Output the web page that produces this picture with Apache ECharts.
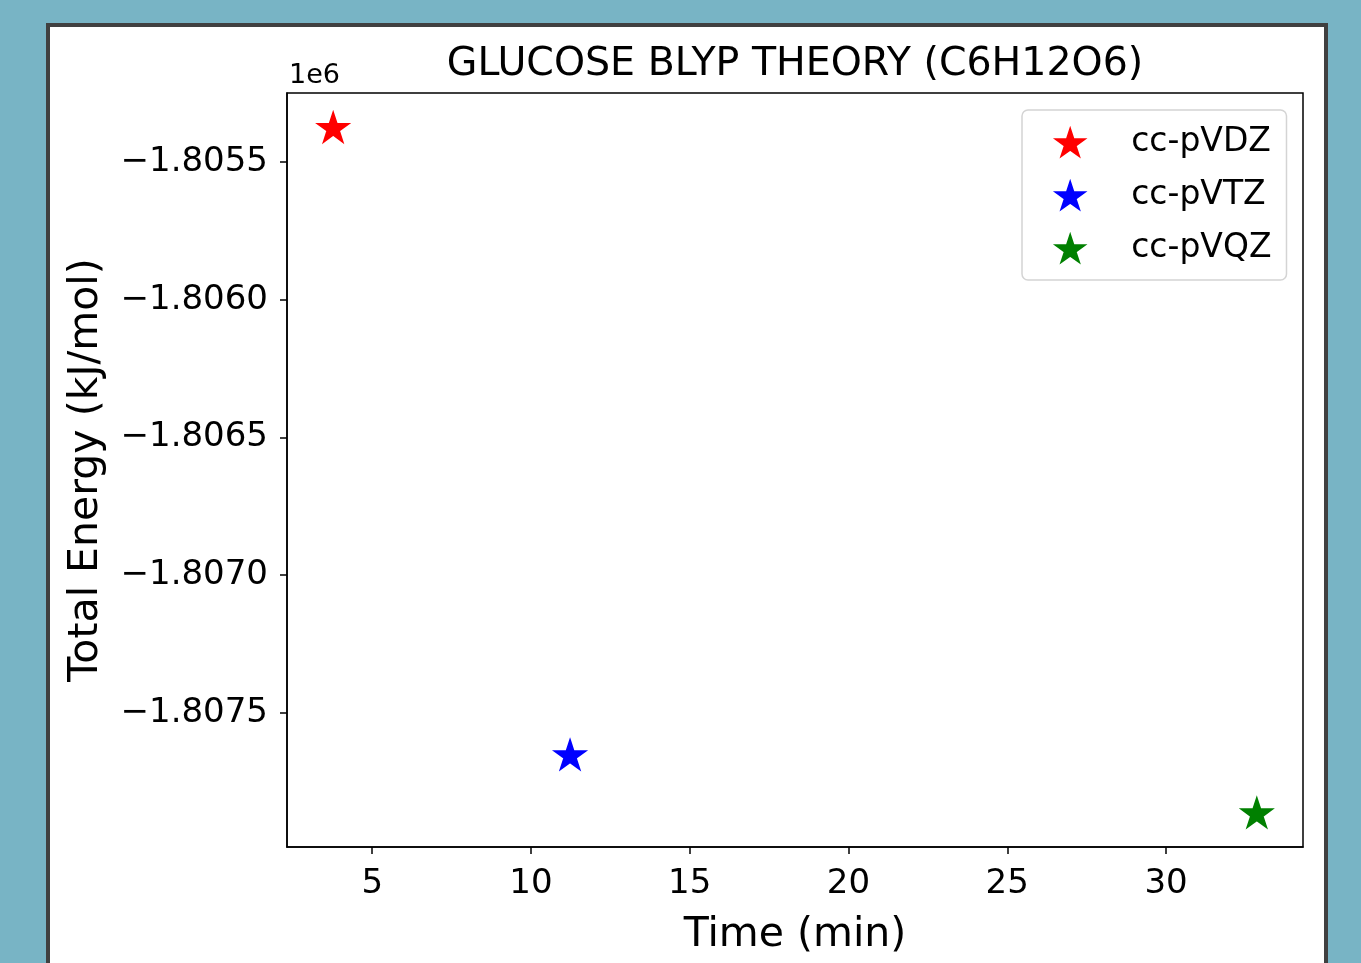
<!DOCTYPE html>
<html>
<head>
    <meta charset="utf-8">
    <title>GLUCOSE BLYP THEORY</title>
    <script src="https://cdn.jsdelivr.net/npm/echarts@6/dist/echarts.min.js"></script>
    <style>
        html, body { margin: 0; padding: 0; background: #78b4c5; }
        #container { width: 1361px; height: 963px; }
    </style>
</head>
<body>
    <div id="container"></div>
    <script type="text/javascript">
        // basis sets, run time (min) and total energy (kJ/mol)
        var basisSets = ['cc-pVDZ', 'cc-pVTZ', 'cc-pVQZ'];
        var times = [3.77, 11.23, 32.86];
        var energies = [-1805373, -1807652, -1807863];
        var colors = ['#ff0000', '#0000ff', '#008000'];

        var xTicks = [5, 10, 15, 20, 25, 30];
        var yTicks = [-1807500, -1807000, -1806500, -1806000, -1805500];

        var FONT = '"DejaVu Sans", sans-serif';
        var STAR = 'path://M100,0 L122.45,69.1 L195.1,69.1 L136.3,111.8 L158.8,180.9 L100,138.2 L41.2,180.9 L63.7,111.8 L4.9,69.1 L77.55,69.1 Z';

        // matplotlib style 5% margins
        function pad(arr) {
            var lo = Math.min.apply(null, arr), hi = Math.max.apply(null, arr);
            var m = (hi - lo) * 0.05;
            return [lo - m, hi + m];
        }
        var xr = pad(times), yr = pad(energies);

        var series = basisSets.map(function (name, i) {
            return {
                name: name,
                type: 'scatter',
                symbol: STAR,
                symbolSize: 30,
                symbolKeepAspect: true,
                itemStyle: { color: colors[i], opacity: 1, borderColor: colors[i], borderWidth: 2 },
                data: [[times[i], energies[i]]]
            };
        });

        var chart = echarts.init(document.getElementById('container'));
        chart.setOption({
            animation: false,
            textStyle: { fontFamily: FONT },
            graphic: [
                {
                    type: 'rect', z: -10,
                    shape: { x: 48, y: 25, width: 1278, height: 960 },
                    style: { fill: '#ffffff', stroke: '#404040', lineWidth: 4 }
                },
                {
                    type: 'text',
                    style: {
                        x: 795, y: 65, text: 'GLUCOSE BLYP THEORY (C6H12O6)',
                        textAlign: 'center', textVerticalAlign: 'middle',
                        font: '39.5px ' + FONT, fill: '#000'
                    }
                },
                {
                    type: 'text',
                    style: {
                        x: 289, y: 76, text: '1e6',
                        textAlign: 'left', textVerticalAlign: 'middle',
                        font: '27px ' + FONT, fill: '#000'
                    }
                }
            ],
            grid: {
                left: 287, top: 93, right: 58, bottom: 116,
                show: true, borderColor: '#000', borderWidth: 1.5,
                backgroundColor: 'transparent'
            },
            legend: {
                orient: 'vertical',
                left: 1022, top: 110,
                padding: [16, 15, 15, 33],
                itemGap: 20,
                itemWidth: 40, itemHeight: 27,
                symbolKeepAspect: true,
                backgroundColor: '#ffffff',
                borderColor: '#d4d4d4', borderWidth: 1.5, borderRadius: 6,
                textStyle: { fontSize: 33, lineHeight: 33, color: '#000', fontFamily: FONT, padding: [0, 0, 0, 36] },
                data: basisSets.map(function (n) { return { name: n, icon: STAR }; })
            },
            xAxis: {
                type: 'value',
                min: xr[0], max: xr[1],
                name: 'Time (min)',
                nameLocation: 'middle', nameGap: 68,
                nameTextStyle: { fontSize: 41, color: '#000', fontFamily: FONT },
                splitLine: { show: false },
                axisLine: { show: true, lineStyle: { color: '#000', width: 1.5 } },
                axisTick: { show: true, length: 7, lineStyle: { color: '#000', width: 1.5 }, customValues: xTicks },
                axisLabel: {
                    fontSize: 34, color: '#000', margin: 20, fontFamily: FONT,
                    customValues: xTicks
                }
            },
            yAxis: {
                type: 'value',
                min: yr[0], max: yr[1],
                name: 'Total Energy (kJ/mol)',
                nameLocation: 'middle', nameGap: 180,
                nameTextStyle: { fontSize: 41, color: '#000', fontFamily: FONT },
                splitLine: { show: false },
                axisLine: { show: true, lineStyle: { color: '#000', width: 1.5 } },
                axisTick: { show: true, length: 7, lineStyle: { color: '#000', width: 1.5 }, customValues: yTicks },
                axisLabel: {
                    fontSize: 34, color: '#000', margin: 19, fontFamily: FONT,
                    customValues: yTicks,
                    formatter: function (v) {
                        return (v < 0 ? '\u2212' : '') + (Math.abs(v) / 1e6).toFixed(4);
                    }
                }
            },
            series: series
        });
    </script>
</body>
</html>
